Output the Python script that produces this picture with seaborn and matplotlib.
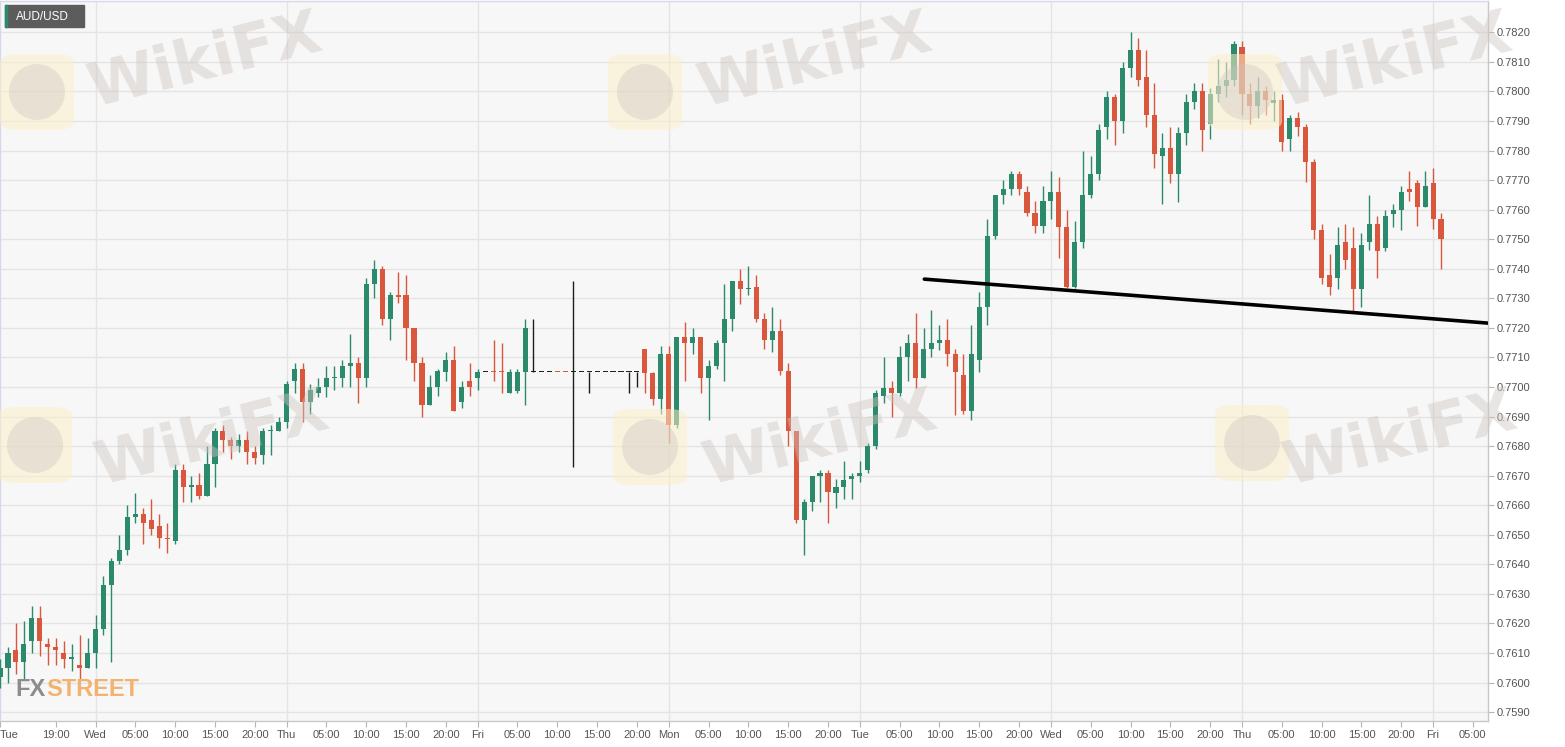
import numpy as np
import pandas as pd
import matplotlib
matplotlib.use('Agg')
import matplotlib.pyplot as plt
from matplotlib.patches import Rectangle, FancyBboxPatch, Ellipse
import seaborn as sns

# hourly AUD/USD candles, Tue 12:00 -> Fri 01:00 (weekend removed)
opens = [0.7602, 0.7605, 0.7611, 0.7607, 0.7614, 0.7622, 0.7613, 0.7612, 0.7610, 0.7608,
         0.7606, 0.7605, 0.7610, 0.7618, 0.7633, 0.7641, 0.7645, 0.7656, 0.7657, 0.7655,
         0.7653, 0.7649, 0.7648, 0.7672, 0.7666, 0.7667, 0.7663, 0.7674, 0.7685, 0.7682,
         0.7680, 0.7682, 0.7678, 0.7677, 0.7685, 0.7685, 0.7688, 0.7702, 0.7706, 0.7695,
         0.7698, 0.7700, 0.7703, 0.7703, 0.7707, 0.7708, 0.7703, 0.7735, 0.7740, 0.7723,
         0.7731, 0.7731, 0.7720, 0.7708, 0.7694, 0.7700, 0.7705, 0.7709, 0.7695, 0.7702,
         0.7703, 0.7705, 0.77052, 0.77052, 0.7698, 0.76985, 0.7705, 0.7705, 0.7705, 0.7705,
         0.77052, 0.77052, 0.7705, 0.7705, 0.7705, 0.7705, 0.7705, 0.7705, 0.7705, 0.7705,
         0.7705, 0.7713, 0.77046, 0.7696, 0.7711, 0.7687, 0.7717, 0.7715, 0.7717, 0.7703,
         0.7707, 0.7715, 0.7723, 0.7736, 0.7733, 0.7734, 0.7723, 0.7716, 0.7719, 0.77055,
         0.7685, 0.7655, 0.7661, 0.7670, 0.7671, 0.7664, 0.7666, 0.7669, 0.7670, 0.7672,
         0.7680, 0.7697, 0.76995, 0.7698, 0.7710, 0.7715, 0.7703, 0.7713, 0.7715, 0.7716,
         0.7711, 0.7704, 0.7692, 0.7709, 0.7727, 0.7751, 0.7765, 0.7767, 0.7772, 0.7766,
         0.7759, 0.77545, 0.7763, 0.7766, 0.7754, 0.7734, 0.7749, 0.7765, 0.7772, 0.7788,
         0.7798, 0.7790, 0.7808, 0.7814, 0.7805, 0.7792, 0.7778, 0.7781, 0.7772, 0.7786,
         0.77965, 0.7800, 0.7789, 0.7799, 0.7802, 0.7804, 0.7815, 0.7799, 0.7795, 0.7800,
         0.7796, 0.7797, 0.7784, 0.7791, 0.7788, 0.7776, 0.7753, 0.7738, 0.7737, 0.7749,
         0.7747, 0.7733, 0.7749, 0.7755, 0.7747, 0.77585, 0.7760, 0.7767, 0.7769, 0.7761,
         0.7769, 0.7757]
highs = [0.7608, 0.7612, 0.7620, 0.7621, 0.7626, 0.7626, 0.7615, 0.7615, 0.7614, 0.7613,
         0.7616, 0.7615, 0.7623, 0.7636, 0.7642, 0.7650, 0.7660, 0.7664, 0.7659, 0.7662,
         0.7657, 0.7654, 0.7674, 0.7674, 0.7670, 0.7671, 0.7680, 0.7686, 0.7687, 0.7683,
         0.7684, 0.7685, 0.7680, 0.7686, 0.7687, 0.7690, 0.7702, 0.7708, 0.7708, 0.7701,
         0.7703, 0.7707, 0.7707, 0.7709, 0.7718, 0.7710, 0.7737, 0.7743, 0.7741, 0.7732,
         0.7739, 0.7738, 0.7720, 0.7710, 0.7704, 0.7706, 0.7712, 0.7714, 0.7702, 0.7708,
         0.7706, 0.7705, 0.7716, 0.7715, 0.7706, 0.7706, 0.7723, 0.7723, 0.7705, 0.7705,
         0.77052, 0.77052, 0.7736, 0.7705, 0.7705, 0.7705, 0.7705, 0.7705, 0.7705, 0.7705,
         0.7705, 0.7713, 0.7705, 0.7714, 0.7714, 0.7717, 0.7722, 0.7720, 0.7717, 0.7709,
         0.7716, 0.7735, 0.7736, 0.7740, 0.7741, 0.7738, 0.7725, 0.7727, 0.7723, 0.7708,
         0.7685, 0.7662, 0.7670, 0.7672, 0.7672, 0.7669, 0.7675, 0.7671, 0.7675, 0.7681,
         0.7699, 0.7710, 0.7702, 0.7714, 0.7718, 0.7725, 0.7720, 0.7726, 0.7721, 0.7723,
         0.7713, 0.7711, 0.7721, 0.7732, 0.7757, 0.7765, 0.7770, 0.7773, 0.7773, 0.7768,
         0.7763, 0.7768, 0.7773, 0.7771, 0.7760, 0.7756, 0.7780, 0.7778, 0.7789, 0.7800,
         0.7799, 0.7810, 0.7820, 0.7818, 0.7814, 0.7803, 0.7786, 0.7788, 0.7788, 0.7799,
         0.7803, 0.7803, 0.7801, 0.7811, 0.7810, 0.7817, 0.7817, 0.7803, 0.7805, 0.7802,
         0.7800, 0.7799, 0.7792, 0.7793, 0.7789, 0.7777, 0.7755, 0.7745, 0.7754, 0.7755,
         0.7754, 0.7752, 0.7765, 0.7758, 0.7760, 0.7762, 0.7768, 0.7773, 0.7770, 0.7773,
         0.7774, 0.7759]
lows = [0.7598, 0.7600, 0.7603, 0.7601, 0.7610, 0.7609, 0.7606, 0.7606, 0.7605, 0.7604,
        0.7601, 0.7605, 0.7605, 0.7616, 0.7607, 0.7640, 0.7643, 0.7654, 0.7647, 0.7650,
        0.76455, 0.7644, 0.7647, 0.7661, 0.7661, 0.7662, 0.7663, 0.7666, 0.7678, 0.76755,
        0.7678, 0.7674, 0.7674, 0.7674, 0.7677, 0.7685, 0.7686, 0.7698, 0.7688, 0.7691,
        0.76965, 0.76965, 0.7699, 0.7700, 0.7700, 0.76945, 0.7700, 0.7730, 0.7721, 0.7716,
        0.77285, 0.7709, 0.7702, 0.7690, 0.7694, 0.7697, 0.7702, 0.7692, 0.7693, 0.7697,
        0.7699, 0.7705, 0.7702, 0.7698, 0.7698, 0.7698, 0.7694, 0.7705, 0.7705, 0.7705,
        0.7705, 0.7705, 0.7673, 0.7705, 0.7698, 0.7705, 0.7705, 0.7705, 0.7705, 0.7698,
        0.7700, 0.7698, 0.7694, 0.7691, 0.7681, 0.7686, 0.7702, 0.7711, 0.7698, 0.7689,
        0.7706, 0.7702, 0.7719, 0.7728, 0.7731, 0.7722, 0.7713, 0.7712, 0.7704, 0.7680,
        0.7654, 0.7643, 0.7658, 0.7661, 0.7654, 0.7659, 0.7662, 0.7662, 0.7668, 0.7671,
        0.7679, 0.76945, 0.7690, 0.7697, 0.7702, 0.76995, 0.7703, 0.7710, 0.77125, 0.7707,
        0.76905, 0.7691, 0.7689, 0.7705, 0.7721, 0.7750, 0.7762, 0.7765, 0.7765, 0.7758,
        0.7752, 0.7752, 0.7757, 0.77435, 0.77335, 0.77335, 0.7747, 0.7764, 0.7770, 0.7784,
        0.7782, 0.7786, 0.7805, 0.7802, 0.7788, 0.7774, 0.7762, 0.7769, 0.77625, 0.7782,
        0.7794, 0.7780, 0.7784, 0.77965, 0.7798, 0.7802, 0.7792, 0.7789, 0.7791, 0.7792,
        0.7790, 0.7780, 0.7780, 0.7785, 0.77695, 0.7750, 0.7735, 0.7731, 0.7733, 0.7740,
        0.7725, 0.7727, 0.77465, 0.7737, 0.7746, 0.7754, 0.7753, 0.7763, 0.77545, 0.7761,
        0.77535, 0.7740]
closes = [0.7605, 0.7610, 0.7607, 0.7613, 0.7622, 0.7614, 0.7612, 0.7611, 0.7608, 0.76085,
          0.7605, 0.7610, 0.7618, 0.7633, 0.7641, 0.7645, 0.7656, 0.7657, 0.7654, 0.7652,
          0.7649, 0.76485, 0.7672, 0.7666, 0.7667, 0.7663, 0.7674, 0.7685, 0.7682, 0.7680,
          0.7682, 0.7678, 0.7676, 0.7685, 0.76855, 0.7688, 0.7701, 0.7706, 0.7695, 0.7699,
          0.7700, 0.7703, 0.77035, 0.7707, 0.7708, 0.7703, 0.7735, 0.7740, 0.7723, 0.7731,
          0.77305, 0.7720, 0.7708, 0.7694, 0.7700, 0.77055, 0.7709, 0.7692, 0.7700, 0.7700,
          0.7705, 0.7705, 0.7705, 0.7705, 0.7705, 0.7705, 0.7720, 0.7705, 0.7705, 0.7705,
          0.7705, 0.7705, 0.7705, 0.7705, 0.7705, 0.7705, 0.7705, 0.7705, 0.7705, 0.7705,
          0.7705, 0.77046, 0.7696, 0.7711, 0.7687, 0.7717, 0.7715, 0.7717, 0.7703, 0.7707,
          0.7715, 0.7723, 0.7736, 0.7733, 0.77335, 0.7723, 0.7716, 0.7719, 0.77055, 0.7685,
          0.7655, 0.7661, 0.7670, 0.7671, 0.76645, 0.7666, 0.76685, 0.7670, 0.7671, 0.7680,
          0.7698, 0.76995, 0.7698, 0.7710, 0.7715, 0.7703, 0.7713, 0.7715, 0.7716, 0.7711,
          0.7705, 0.7692, 0.7711, 0.7727, 0.7751, 0.7765, 0.7767, 0.7772, 0.7767, 0.7759,
          0.77545, 0.7763, 0.7766, 0.7754, 0.7734, 0.7749, 0.7765, 0.7772, 0.7787, 0.7798,
          0.7790, 0.7808, 0.7814, 0.7804, 0.7792, 0.7779, 0.7781, 0.7772, 0.7786, 0.77965,
          0.7800, 0.7787, 0.7799, 0.7802, 0.7804, 0.7816, 0.7799, 0.7795, 0.7800, 0.7797,
          0.7797, 0.7783, 0.7791, 0.7788, 0.7776, 0.7753, 0.7737, 0.7734, 0.7748, 0.7743,
          0.7733, 0.7748, 0.7755, 0.7746, 0.7758, 0.7760, 0.7766, 0.7766, 0.7761, 0.7768,
          0.7757, 0.7750]

# x axis labels (hour index from the first candle)
tick_pos = [0, 7, 12, 17, 22, 27, 32, 36, 41, 46, 51, 56, 60, 65, 70, 75, 80, 84, 89, 94,
            99, 104, 108, 113, 118, 123, 128, 132, 137, 142, 147, 152, 156, 161, 166, 171,
            176, 180, 185]
tick_labels = ['Tue', '19:00', 'Wed', '05:00', '10:00', '15:00', '20:00', 'Thu', '05:00',
               '10:00', '15:00', '20:00', 'Fri', '05:00', '10:00', '15:00', '20:00', 'Mon',
               '05:00', '10:00', '15:00', '20:00', 'Tue', '05:00', '10:00', '15:00', '20:00',
               'Wed', '05:00', '10:00', '15:00', '20:00', 'Thu', '05:00', '10:00', '15:00',
               '20:00', 'Fri', '05:00']
day_pos = [12, 36, 60, 84, 108, 132, 156, 180]
price_ticks = [0.7590, 0.7600, 0.7610, 0.7620, 0.7630, 0.7640, 0.7650, 0.7660, 0.7670,
               0.7680, 0.7690, 0.7700, 0.7710, 0.7720, 0.7730, 0.7740, 0.7750, 0.7760,
               0.7770, 0.7780, 0.7790, 0.7800, 0.7810, 0.7820]

# support trend line
trend_x = [116.1, 187.0]
trend_y = [0.77365, 0.77216]

df = pd.DataFrame({'open': opens, 'high': highs, 'low': lows, 'close': closes})
df['idx'] = np.arange(len(df))

GREEN = '#2b8a6b'
RED = '#d9573d'
FLAT = '#1e1e1e'
df['color'] = np.where(df['close'] > df['open'], GREEN,
                       np.where(df['close'] < df['open'], RED, FLAT))

sns.set_theme(style='whitegrid')
plt.rcParams['font.family'] = ['Liberation Sans', 'DejaVu Sans']

W, H = 1565, 747
fig = plt.figure(figsize=(W / 100, H / 100), dpi=100)
fig.patch.set_facecolor('white')
ax = fig.add_axes([0, 26.3 / H, 1488 / W, (H - 26.3 - 1) / H])
ax.set_facecolor('#f7f7f7')

# grid
ax.set_yticks(price_ticks)
ax.yaxis.grid(True, color='#e4e4e4', lw=1)
ax.xaxis.grid(False)
for d in day_pos:
    ax.axvline(d, color='#e4e4e4', lw=1, zorder=0)

# candles
ax.vlines(df['idx'], df['low'], df['high'], colors=df['color'], lw=1.0, zorder=3)
body = np.maximum((df['close'] - df['open']).abs(), 0.00004)
bottom = np.minimum(df['open'], df['close'])
ax.bar(df['idx'], body, bottom=bottom, width=0.64, color=df['color'], lw=0, zorder=4)

sns.lineplot(x=trend_x, y=trend_y, color='black', lw=2.6, ax=ax, zorder=5)

ax.set_xlim(0, 186.9)
ax.set_ylim(0.75871, 0.78306)

ax.yaxis.tick_right()
ax.set_yticklabels([f'{p:.4f}' for p in price_ticks])
ax.set_xticks(tick_pos)
ax.set_xticklabels(tick_labels)
ax.tick_params(axis='y', right=True, length=4, width=0.8, color='#b5b5b5',
               labelcolor='#555555', labelsize=8, pad=2)
ax.tick_params(axis='x', bottom=True, length=4, width=0.8, color='#b5b5b5',
               labelcolor='#555555', labelsize=8, pad=3)
ax.get_xticklabels()[0].set_horizontalalignment('left')
ax.set_xlabel('')
ax.set_ylabel('')
for s in ['left', 'top']:
    ax.spines[s].set_color('#d8d8e8')
for s in ['right', 'bottom']:
    ax.spines[s].set_color('#c8c8c8')
for s in ax.spines.values():
    s.set_linewidth(1)

# pair label box
fig.add_artist(Rectangle((5 / W, 1 - 27 / H), 79 / W, 22 / H, transform=fig.transFigure,
                         color='#5c5c5c', zorder=10))
fig.add_artist(Rectangle((5 / W, 1 - 27 / H), 2 / W, 22 / H, transform=fig.transFigure,
                         color=GREEN, zorder=11))
fig.text(16 / W, 1 - 16.5 / H, 'AUD/USD', color='white', fontsize=8.5, va='center',
         ha='left', zorder=12)

# WikiFX watermarks (logo centre, text centre)
marks = [((37, 92), (205, 62)), ((645, 92), (815, 62)), ((1245, 92), (1395, 62)),
         ((35, 445), (212, 440)), ((650, 447), (820, 440)), ((1252, 443), (1400, 440))]
for (lx, ly), (tx, ty) in marks:
    fig.add_artist(FancyBboxPatch(((lx - 37) / W, 1 - (ly + 38) / H), 74 / W, 76 / H,
                                  boxstyle='round,pad=0,rounding_size=0.012',
                                  transform=fig.transFigure, color='#fbeec9', alpha=0.55,
                                  lw=0, zorder=6))
    fig.add_artist(Ellipse((lx / W, 1 - ly / H), 56 / W, 56 / H, transform=fig.transFigure,
                           color='#cbc4c1', alpha=0.35, lw=0, zorder=6))
    fig.text(tx / W, 1 - ty / H, 'WikiFX', fontsize=44, fontweight='bold',
             color='#cfc6c2', alpha=0.45, rotation=14, ha='center', va='center',
             family=['DejaVu Sans'], zorder=6)

# FXStreet logo
fx = fig.text(15 / W, 1 - 689 / H, 'FX', color='#8c8c8c', fontsize=17, fontweight='bold',
              va='center', ha='left', zorder=7)
renderer = fig.canvas.get_renderer()
bb = fx.get_window_extent(renderer=renderer)
fig.text((bb.x1 + 1) / W, 1 - 689 / H, 'STREET', color='#f2b270', fontsize=17,
         fontweight='bold', va='center', ha='left', zorder=7)

fig.savefig('out.png', dpi=100)
